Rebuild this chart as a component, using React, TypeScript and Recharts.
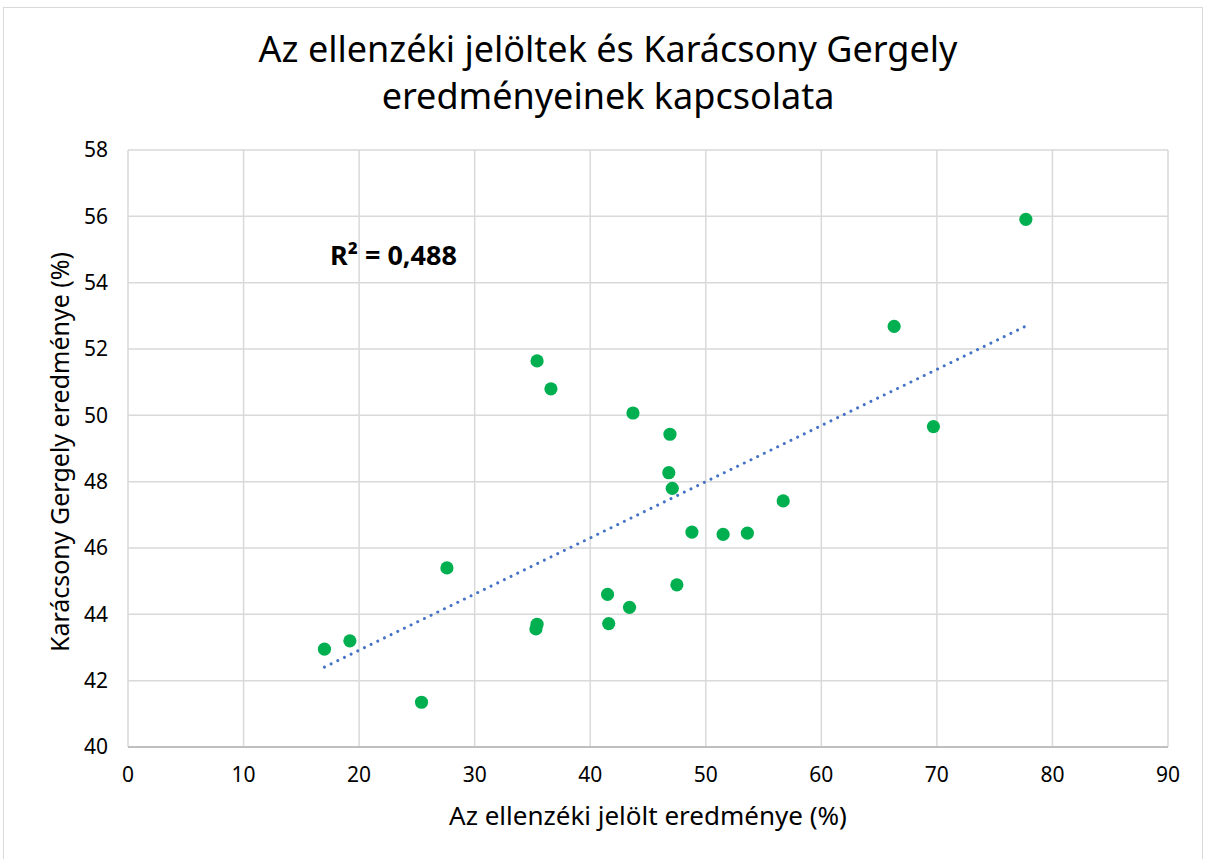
import { CartesianGrid, Line, ComposedChart, Scatter, XAxis, YAxis, ReferenceLine } from "recharts";

// ellenzéki jelölt (%) vs Karácsony (%)
const oppositionPct = [17.0, 19.2, 25.4, 27.6, 35.4, 36.6, 35.4, 35.3, 43.7, 46.9, 46.8, 47.1, 41.5, 43.4, 41.6, 47.5, 48.8, 51.5, 77.7, 66.3, 69.7, 56.7, 53.6];
const karacsonyPct = [42.95, 43.2, 41.35, 45.4, 51.64, 50.8, 43.7, 43.56, 50.07, 49.43, 48.27, 47.8, 44.6, 44.21, 43.72, 44.89, 46.48, 46.41, 55.91, 52.68, 49.66, 47.42, 46.45];

// trendline endpoints
const trendX = [17.0, 77.7];
const trendY = [42.41, 52.69];

const xTicks = [0, 10, 20, 30, 40, 50, 60, 70, 80, 90];
const yTicks = [40, 42, 44, 46, 48, 50, 52, 54, 56, 58];

const titleLines = ["Az ellenzéki jelöltek és Karácsony Gergely", "eredményeinek kapcsolata"];
const xTitle = "Az ellenzéki jelölt eredménye (%)";
const yTitle = "Karácsony Gergely eredménye (%)";
const r2Text = "R² = 0,488";

const font = "'Noto Sans', 'Open Sans', sans-serif";
const grid = "#D9D9D9";
const dotGreen = "#00B050";
const trendBlue = "#4472C4";

export default function App() {
  const points = oppositionPct.map((x, i) => ({ x, y: karacsonyPct[i] }));
  const trend = trendX.map((x, i) => ({ x, y: trendY[i] }));

  return (
    <div style={{ position: "absolute", left: 0, top: 0, width: 1206, height: 859, background: "#fff", fontFamily: font }}>
      <div style={{ position: "absolute", left: 3, top: 7, width: 1200, height: 860, border: "1px solid #D9D9D9", boxSizing: "border-box" }} />
      <div style={{ position: "absolute", left: 0, top: 25, width: 1216, textAlign: "center", fontSize: 36, lineHeight: "47px", color: "#000" }}>
        {titleLines.map((t) => (
          <div key={t}>{t}</div>
        ))}
      </div>
      <div style={{ position: "absolute", left: 128, width: 1040, top: 799, textAlign: "center", fontSize: 26, lineHeight: "32px", color: "#000" }}>{xTitle}</div>
      <div
        style={{
          position: "absolute",
          left: 59 - 300,
          top: 452 - 16,
          width: 600,
          textAlign: "center",
          fontSize: 25,
          lineHeight: "32px",
          color: "#000",
          transform: "rotate(-90deg)"
        }}
      >
        {yTitle}
      </div>
      <div style={{ position: "absolute", left: 330, top: 237, fontSize: 27, lineHeight: "36px", fontWeight: 700, color: "#000" }}>{r2Text}</div>
      <div style={{ position: "absolute", left: 0, top: 0 }}>
        <ComposedChart width={1206} height={859} margin={{ top: 150, right: 38, bottom: 72, left: 68 }}>
          <CartesianGrid stroke={grid} strokeWidth={1.5} />
          <XAxis
            type="number"
            dataKey="x"
            domain={[0, 90]}
            ticks={xTicks}
            interval={0}
            height={40}
            tickSize={0}
            tickMargin={20}
            axisLine={false}
            tick={{ fill: "#000", fontSize: 21, fontFamily: font }}
          />
          <YAxis
            type="number"
            dataKey="y"
            domain={[40, 58]}
            ticks={yTicks}
            interval={0}
            width={60}
            tickSize={0}
            tickMargin={20}
            axisLine={false}
            tick={{ fill: "#000", fontSize: 21, fontFamily: font }}
          />
          <ReferenceLine y={40} stroke="#BFBFBF" strokeWidth={2} />
          <Line
            data={trend}
            dataKey="y"
            type="linear"
            stroke={trendBlue}
            strokeWidth={3}
            strokeDasharray="0.01 7.4"
            strokeLinecap="round"
            dot={false}
            activeDot={false}
            isAnimationActive={false}
          />
          <Scatter data={points} fill={dotGreen} shape={(p: any) => <circle cx={p.cx} cy={p.cy} r={6.6} fill={dotGreen} />} isAnimationActive={false} />
        </ComposedChart>
      </div>
    </div>
  );
}
